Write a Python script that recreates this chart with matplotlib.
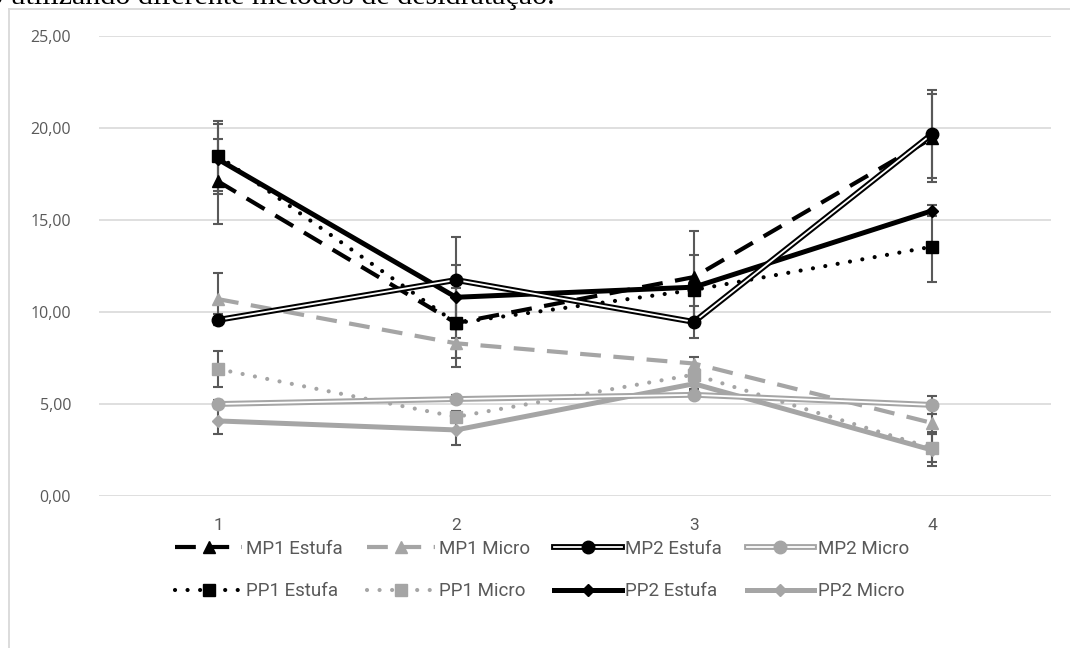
import matplotlib
matplotlib.use('Agg')
import matplotlib.pyplot as plt
from matplotlib.lines import Line2D
from matplotlib.legend_handler import HandlerTuple
from matplotlib.ticker import FuncFormatter, FixedLocator

categories = ['1', '2', '3', '4']
x = [1, 2, 3, 4]

mp1_estufa = [17.1, 9.4, 11.9, 19.45]
mp1_micro = [10.7, 8.3, 7.2, 3.97]
mp2_estufa = [9.57, 11.74, 9.46, 19.67]
mp2_micro = [5.0, 5.27, 5.5, 4.95]
pp1_estufa = [18.5, 9.4, 11.2, 13.55]
pp1_micro = [6.9, 4.3, 6.6, 2.6]
pp2_estufa = [18.3, 10.8, 11.35, 15.5]
pp2_micro = [4.08, 3.59, 6.1, 2.5]

mp1_estufa_err = [2.3, 2.4, 2.5, 2.4]
mp1_micro_err = [1.4, 0.3, 0.35, 0.5]
mp2_estufa_err = [0.3, 2.35, 0.86, 2.4]
mp2_micro_err = [0.2, 0.2, 0.2, 0.48]
pp1_estufa_err = [1.9, 1.9, 1.9, 1.9]
pp1_micro_err = [1.0, 0.3, 0.3, 0.75]
pp2_estufa_err = [1.9, 1.75, 0.3, 0.3]
pp2_micro_err = [0.7, 0.82, 0.3, 0.87]

labels = ['MP1 Estufa', 'MP1 Micro', 'MP2 Estufa', 'MP2 Micro',
          'PP1 Estufa', 'PP1 Micro', 'PP2 Estufa', 'PP2 Micro']

BLACK = '#000000'
GRAY = '#A5A5A5'
ERR = '#595959'
GRID = '#D9D9D9'
TXT = '#595959'

fig = plt.figure(figsize=(10.70, 6.48), dpi=100)
ax = fig.add_axes([99/1070, 1-496/648, (1051-99)/1070, (496-36)/648])

# error bars
for vals, errs in [(mp1_estufa, mp1_estufa_err), (mp1_micro, mp1_micro_err),
                   (mp2_estufa, mp2_estufa_err), (mp2_micro, mp2_micro_err),
                   (pp1_estufa, pp1_estufa_err), (pp1_micro, pp1_micro_err),
                   (pp2_estufa, pp2_estufa_err), (pp2_micro, pp2_micro_err)]:
    ax.errorbar(x, vals, yerr=errs, fmt='none', ecolor=ERR, elinewidth=1.5,
                capsize=3.6, capthick=1.5, zorder=2)


def dashed(vals, color, marker, ms):
    l, = ax.plot(x, vals, color=color, lw=3, dashes=(5, 3), marker=marker,
                 ms=ms, mfc=color, mec=color, zorder=3)
    return l


def dotted(vals, color, marker, ms):
    l, = ax.plot(x, vals, color=color, lw=3, dashes=(0.01, 3),
                 dash_capstyle='round', marker=marker, ms=ms, mfc=color,
                 mec=color, zorder=3)
    return l


def solid(vals, color, marker, ms):
    l, = ax.plot(x, vals, color=color, lw=3.6, marker=marker, ms=ms,
                 mfc=color, mec=color, zorder=3, solid_joinstyle='round')
    return l


def double(vals, color, marker, ms):
    a, = ax.plot(x, vals, color=color, lw=4.2, zorder=3)
    b, = ax.plot(x, vals, color='white', lw=1.3, zorder=3.1)
    c, = ax.plot(x, vals, ls='none', marker=marker, ms=ms, mfc=color,
                 mec=color, zorder=3.2)
    return (a, b, c)


h0 = dashed(mp1_estufa, BLACK, '^', 9)
h1 = dashed(mp1_micro, GRAY, '^', 9)
h2 = double(mp2_estufa, BLACK, 'o', 9)
h3 = double(mp2_micro, GRAY, 'o', 9)
h4 = dotted(pp1_estufa, BLACK, 's', 9)
h5 = dotted(pp1_micro, GRAY, 's', 8)
h6 = solid(pp2_estufa, BLACK, 'D', 6.5)
h7 = solid(pp2_micro, GRAY, 'D', 6.5)
handles = [h0, h1, h2, h3, h4, h5, h6, h7]

ax.set_xlim(0.5, 4.5)
ax.set_ylim(0, 25)
ax.yaxis.set_major_locator(FixedLocator([0, 5, 10, 15, 20, 25]))
ax.yaxis.set_major_formatter(FuncFormatter(lambda v, p: f'{v:.2f}'.replace('.', ',')))
ax.set_xticks(x)
ax.set_xticklabels(categories)
ax.grid(axis='y', color=GRID, lw=1.2)
ax.set_axisbelow(True)
for s in ['top', 'right', 'left', 'bottom']:
    ax.spines[s].set_visible(False)
ax.tick_params(axis='both', length=0, colors=TXT)
ax.tick_params(axis='y', pad=20, labelsize=11.5)
ax.tick_params(axis='x', pad=16, labelsize=12.5)
for t in ax.get_yticklabels():
    t.set_family(['Open Sans', 'DejaVu Sans'])
for t in ax.get_xticklabels():
    t.set_family(['Roboto', 'DejaVu Sans'])

order = [0, 4, 1, 5, 2, 6, 3, 7]
leg = fig.legend([handles[i] for i in order], [labels[i] for i in order],
                 ncol=4, loc='center', bbox_to_anchor=(542/1070, 1-570/648),
                 frameon=False, handlelength=3.6, columnspacing=1.3,
                 handletextpad=0.2, labelspacing=1.3,
                 handler_map={tuple: HandlerTuple(ndivide=1)},
                 prop={'family': ['Roboto', 'DejaVu Sans'], 'size': 13.5})
for t in leg.get_texts():
    t.set_color(TXT)

# outer chart border (partially visible)
fig.add_artist(Line2D([9/1070, 1], [1-8.5/648, 1-8.5/648], transform=fig.transFigure,
                      color=GRID, lw=1.3))
fig.add_artist(Line2D([9/1070, 9/1070], [0, 1-8.5/648], transform=fig.transFigure,
                      color=GRID, lw=1.3))

# clipped caption line from the page above
fig.text(-12.5/1070, 1-4/648, 'o utilizando diferente métodos de desidratação.',
         va='baseline', ha='left', fontsize=21.6,
         family=['Liberation Serif', 'DejaVu Serif'], color='black')

fig.savefig('out.png', dpi=100)
